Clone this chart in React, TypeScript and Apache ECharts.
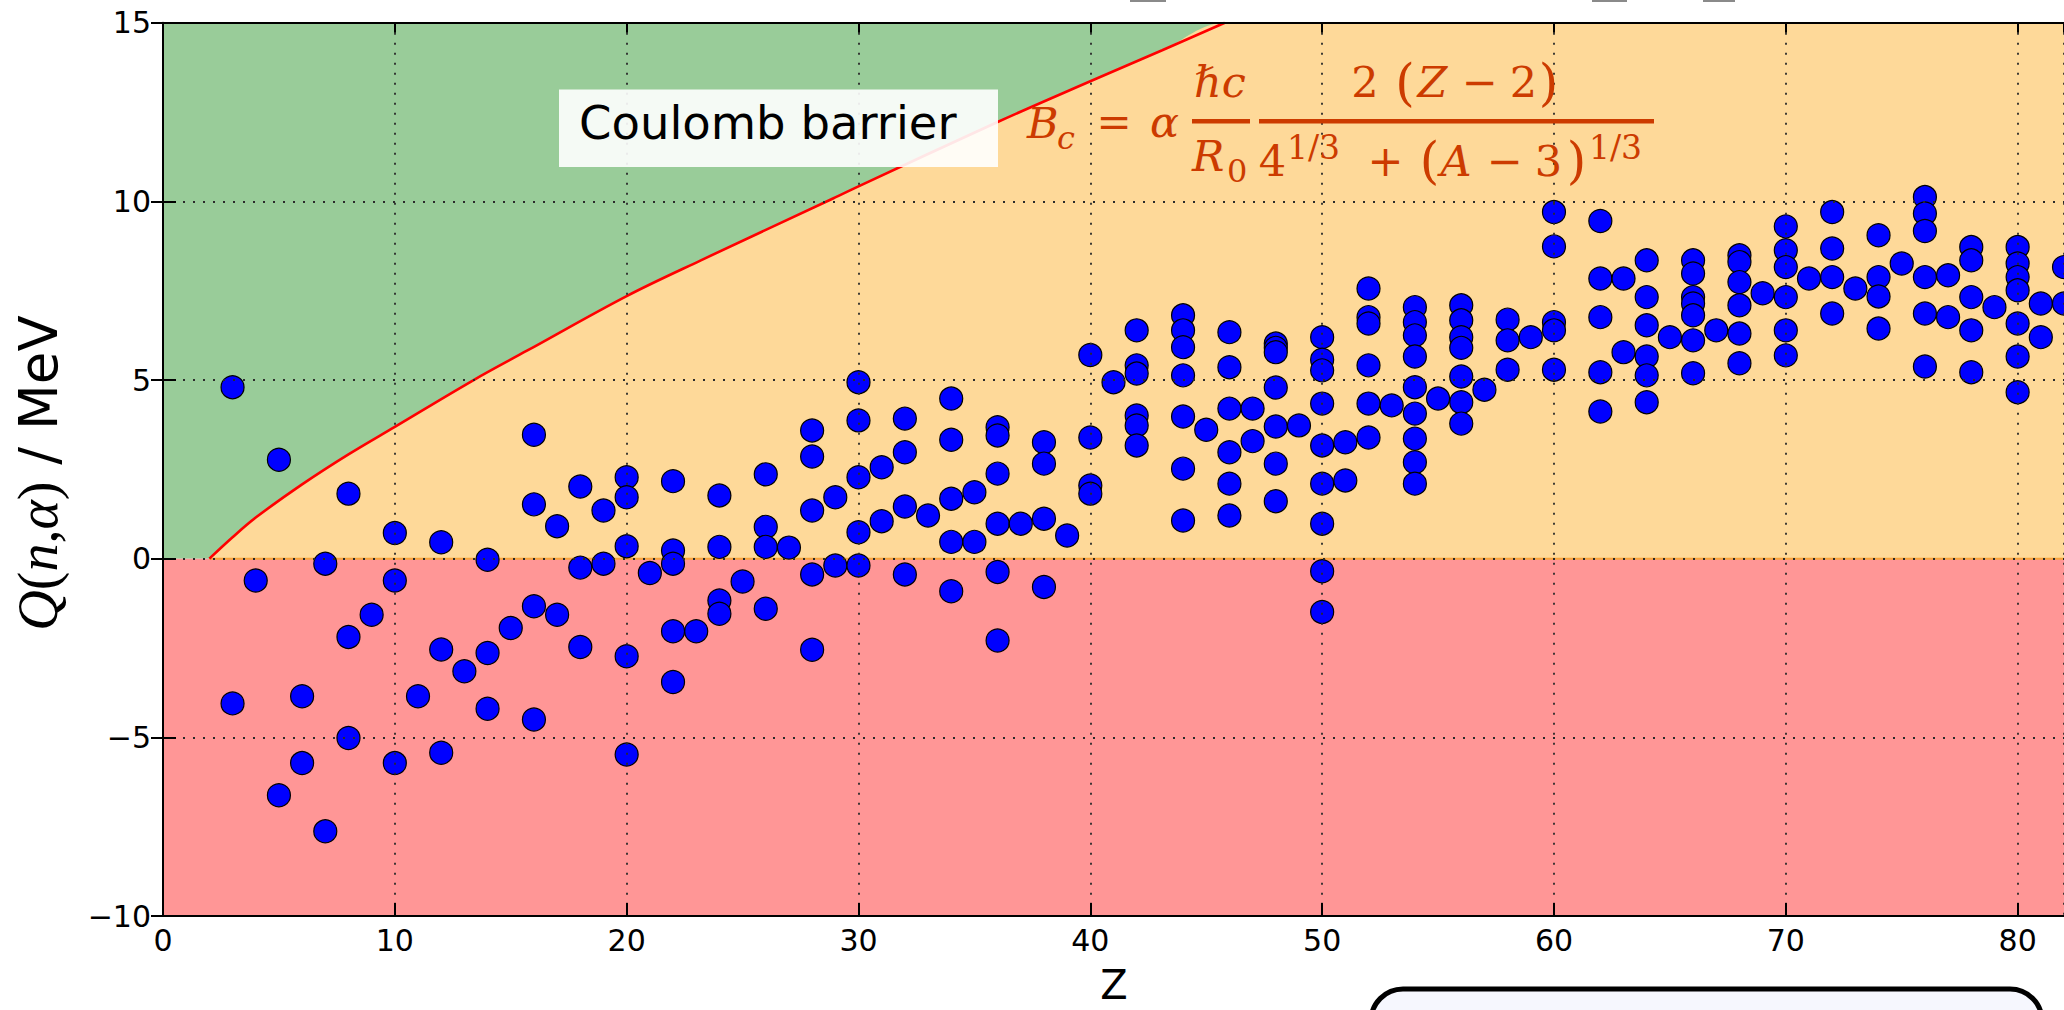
import React, { useEffect, useRef } from "react";
import * as echarts from "echarts";

// Q(n,alpha) values (MeV) grouped by proton number Z
const qByZ: Array<[number, number[]]> = [
  [3, [4.8, -4.05]],
  [4, [-0.61]],
  [5, [2.77, -6.62]],
  [6, [-3.85, -5.72]],
  [7, [-0.14, -7.63]],
  [8, [1.82, -2.19, -5.02]],
  [9, [-1.57]],
  [10, [0.72, -0.61, -5.72]],
  [11, [-3.85]],
  [12, [0.46, -2.54, -5.43]],
  [13, [-3.15]],
  [14, [-0.03, -2.64, -4.2]],
  [15, [-1.94]],
  [16, [3.47, 1.52, -1.33, -4.5]],
  [17, [0.91, -1.57]],
  [18, [2.02, -0.25, -2.47]],
  [19, [1.35, -0.14]],
  [20, [2.28, 1.72, 0.35, -2.73, -5.48]],
  [21, [-0.4]],
  [22, [2.17, 0.23, -0.14, -2.03, -3.45]],
  [23, [-2.03]],
  [24, [1.77, 0.33, -1.17, -1.54]],
  [25, [-0.64]],
  [26, [2.36, 0.89, 0.33, -1.4]],
  [27, [0.31]],
  [28, [3.59, 2.86, 1.35, -0.44, -2.55]],
  [29, [1.72, -0.19]],
  [30, [4.94, 3.87, 2.28, 0.74, -0.19]],
  [31, [2.56, 1.05]],
  [32, [3.92, 2.98, 1.46, -0.44]],
  [33, [1.21]],
  [34, [4.48, 3.33, 1.68, 0.47, -0.91]],
  [35, [1.86, 0.47]],
  [36, [3.68, 3.45, 2.38, 0.98, -0.37, -2.29]],
  [37, [0.98]],
  [38, [3.26, 2.66, 1.12, -0.79]],
  [39, [0.65]],
  [40, [5.7, 3.39, 2.05, 1.82]],
  [41, [4.94]],
  [42, [6.39, 5.41, 5.18, 4.01, 3.73, 3.17]],
  [44, [6.81, 6.39, 5.92, 5.13, 3.98, 2.52, 1.07]],
  [45, [3.61]],
  [46, [6.34, 5.36, 4.2, 2.98, 2.1, 1.21]],
  [47, [4.2, 3.29]],
  [48, [6.02, 5.9, 5.78, 4.79, 3.7, 2.66, 1.61]],
  [49, [3.73]],
  [50, [6.2, 5.57, 5.27, 4.34, 3.17, 2.1, 0.98, -0.35, -1.49]],
  [51, [3.26, 2.19]],
  [52, [7.56, 6.76, 6.58, 5.41, 4.34, 3.39]],
  [53, [4.29]],
  [54, [7.04, 6.62, 6.25, 5.66, 4.8, 4.06, 3.36, 2.7, 2.1]],
  [55, [4.48]],
  [56, [7.09, 6.67, 6.2, 5.9, 5.1, 4.38, 3.78]],
  [57, [4.73]],
  [58, [6.69, 6.11, 5.29]],
  [59, [6.2]],
  [60, [9.7, 8.74, 6.62, 6.39, 5.29]],
  [62, [9.45, 7.84, 6.76, 5.22, 4.12]],
  [63, [7.84, 5.78]],
  [64, [8.35, 7.32, 6.53, 5.66, 5.13, 4.38]],
  [65, [6.2]],
  [66, [8.35, 7.98, 7.32, 7.14, 6.81, 6.11, 5.19]],
  [67, [6.39]],
  [68, [8.49, 8.3, 7.74, 7.09, 6.3, 5.47]],
  [69, [7.43]],
  [70, [9.3, 8.63, 8.16, 7.32, 6.39, 5.69]],
  [71, [7.84]],
  [72, [9.7, 8.68, 7.88, 6.86]],
  [73, [7.56]],
  [74, [9.05, 7.88, 7.34, 6.44]],
  [75, [8.26]],
  [76, [10.12, 9.66, 9.17, 7.88, 6.86, 5.38]],
  [77, [7.93, 6.76]],
  [78, [8.72, 8.35, 7.32, 6.39, 5.22]],
  [79, [7.04]],
  [80, [8.72, 8.26, 7.88, 7.51, 6.58, 5.66, 4.66]],
  [81, [7.14, 6.2]],
  [82, [8.16, 7.14]],
];

// Coulomb barrier curve (Z, MeV)
const barrierZ = [2, 3, 4, 6, 8, 10, 13.4, 15.7, 20, 23.2, 28.9, 30, 36, 40, 43.1, 45.8];
const barrierQ = [0, 0.6, 1.15, 2.08, 2.92, 3.69, 5.0, 5.82, 7.35, 8.35, 10.08, 10.42, 12.22, 13.36, 14.23, 15.0];

// Axis limits and tick steps
const xMin = 0;
const xMax = 82;
const yMin = -10;
const yMax = 15;
const xTickStep = 10;
const yTickStep = 5;

const FORMULA_COLOR = "#cc3b00";
const SERIF = "DejaVu Serif";

function fText(
  text: string,
  x: number,
  baseline: number,
  size: number,
  italic: boolean,
  align: "left" | "center" = "left"
) {
  return {
    type: "text",
    x,
    y: baseline - 0.346 * size,
    z: 30,
    style: {
      text,
      fill: FORMULA_COLOR,
      fontFamily: SERIF,
      fontSize: size,
      fontStyle: italic ? "italic" : "normal",
      align,
      verticalAlign: "middle",
    },
  };
}

export default function App() {
  const ref = useRef<HTMLDivElement>(null);

  useEffect(() => {
    document.body.style.margin = "0";
    document.body.style.overflow = "hidden";
    if (!ref.current) return;
    const chart = echarts.init(ref.current, undefined, { renderer: "svg" });

    const points: number[][] = [];
    qByZ.forEach(([z, qs]) => qs.forEach((q) => points.push([z, q])));

    const curve = barrierZ.map((z, i) => [z, barrierQ[i]]);
    const orangeArea = [...curve, [xMax, yMax]];

    const gridDots = { color: "#2a2a2a", width: 1.8, type: [2, 8] as number[] };
    const axisBlack = { color: "#000", width: 2 };

    const option: any = {
      animation: false,
      backgroundColor: "#fff",
      grid: { left: 163, top: 22.7, width: 1902, height: 893.3 },
      xAxis: [
        {
          type: "value",
          min: xMin,
          max: xMax,
          interval: xTickStep,
          z: 10,
          axisLine: { show: true, onZero: false, lineStyle: axisBlack },
          axisTick: { show: true, inside: true, length: 13, lineStyle: axisBlack },
          axisLabel: {
            show: true,
            margin: 9,
            color: "#000",
            fontFamily: "DejaVu Sans",
            fontSize: 30,
            showMaxLabel: false,
            formatter: (v: number) => (v % xTickStep === 0 ? String(v) : ""),
          },
          splitLine: { show: true, lineStyle: gridDots },
        },
        {
          type: "value",
          position: "top",
          min: xMin,
          max: xMax,
          interval: xTickStep,
          z: 10,
          axisLine: { show: true, onZero: false, lineStyle: axisBlack },
          axisTick: { show: true, inside: true, length: 10, lineStyle: axisBlack },
          axisLabel: { show: false },
          splitLine: { show: false },
        },
      ],
      yAxis: [
        {
          type: "value",
          min: yMin,
          max: yMax,
          interval: yTickStep,
          z: 10,
          axisLine: { show: true, onZero: false, lineStyle: axisBlack },
          axisTick: { show: true, inside: true, length: 13, lineStyle: axisBlack },
          axisLabel: {
            show: true,
            margin: 12,
            color: "#000",
            fontFamily: "DejaVu Sans",
            fontSize: 30,
            formatter: (v: number) => (v < 0 ? "\u2212" + Math.abs(v) : String(v)),
          },
          splitLine: { show: true, lineStyle: gridDots },
        },
        {
          type: "value",
          position: "right",
          min: yMin,
          max: yMax,
          interval: yTickStep,
          z: 10,
          axisLine: { show: false },
          axisTick: { show: true, inside: true, length: 12, lineStyle: axisBlack },
          axisLabel: { show: false },
          splitLine: { show: false },
        },
      ],
      series: [
        {
          name: "above barrier",
          type: "line",
          z: 1,
          symbol: "none",
          data: [
            [xMin, yMax],
            [xMax, yMax],
          ],
          lineStyle: { width: 0, opacity: 0 },
          areaStyle: { color: "#99cc99", opacity: 1, origin: "auto" },
        },
        {
          name: "negative Q",
          type: "line",
          z: 1,
          symbol: "none",
          data: [
            [xMin, yMin],
            [xMax, yMin],
          ],
          lineStyle: { width: 0, opacity: 0 },
          areaStyle: { color: "#ff9696", opacity: 1, origin: "auto" },
        },
        {
          name: "below barrier",
          type: "line",
          z: 2,
          symbol: "none",
          smooth: 0.35,
          data: orangeArea,
          lineStyle: { width: 0, opacity: 0 },
          areaStyle: { color: "#fed999", opacity: 1, origin: "auto" },
        },
        {
          name: "zero edge",
          type: "line",
          z: 2.5,
          symbol: "none",
          data: [
            [barrierZ[0], 0],
            [xMax, 0],
          ],
          lineStyle: { color: "#f6a43a", width: 2 },
        },
        {
          name: "Coulomb barrier",
          type: "line",
          z: 3,
          symbol: "none",
          smooth: 0.35,
          clip: true,
          data: curve,
          lineStyle: { color: "#ff0000", width: 2.6 },
        },
        {
          name: "Q(n,alpha)",
          type: "scatter",
          z: 4,
          symbol: "circle",
          symbolSize: 23,
          data: points,
          itemStyle: { color: "#0000ff", borderColor: "#000", borderWidth: 1.2, opacity: 1 },
        },
      ],
      graphic: [
        // clipped text remnants at the very top
        { type: "rect", z: 30, shape: { x: 1130, y: 0, width: 36, height: 2 }, style: { fill: "#8a8a8a" } },
        { type: "rect", z: 30, shape: { x: 1592, y: 0, width: 35, height: 2 }, style: { fill: "#8a8a8a" } },
        { type: "rect", z: 30, shape: { x: 1703, y: 0, width: 32, height: 2 }, style: { fill: "#8a8a8a" } },
        // Coulomb barrier label
        {
          type: "rect",
          z: 25,
          shape: { x: 559, y: 89.5, width: 439, height: 77.5 },
          style: { fill: "rgba(255,255,255,0.9)" },
        },
        {
          type: "text",
          z: 26,
          x: 579,
          y: 123.4,
          scaleX: 0.99,
          style: {
            text: "Coulomb barrier",
            fill: "#000",
            fontFamily: "DejaVu Sans",
            fontSize: 47,
            align: "left",
            verticalAlign: "middle",
          },
        },
        // formula
        fText("B", 1027, 137.5, 43, true),
        fText("c", 1057, 149, 32, true),
        fText("=", 1114, 137, 42, false, "center"),
        fText("\u03b1", 1164.5, 137, 43, true, "center"),
        fText("\u210fc", 1220, 97, 43, true, "center"),
        { type: "rect", z: 30, shape: { x: 1192, y: 119, width: 58, height: 4.4 }, style: { fill: FORMULA_COLOR } },
        fText("R", 1192, 170.5, 43, true),
        fText("0", 1227, 182, 32, false),
        { type: "rect", z: 30, shape: { x: 1259, y: 119, width: 395, height: 4.4 }, style: { fill: FORMULA_COLOR } },
        fText("2", 1365, 97, 43, false, "center"),
        fText("(", 1405, 100, 50, false, "center"),
        fText("Z", 1432.5, 97, 43, true, "center"),
        fText("\u2212", 1479.5, 97, 43, false, "center"),
        fText("2", 1523.5, 97, 43, false, "center"),
        fText(")", 1548.5, 100, 50, false, "center"),
        fText("4", 1272.5, 175.5, 43, false, "center"),
        fText("1/3", 1287, 159, 33, false),
        fText("+", 1385.5, 175.5, 43, false, "center"),
        fText("(", 1429.5, 178.5, 50, false, "center"),
        fText("A", 1456, 175.5, 43, true, "center"),
        fText("\u2212", 1504.5, 175.5, 43, false, "center"),
        fText("3", 1548.5, 175.5, 43, false, "center"),
        fText(")", 1576.5, 178.5, 50, false, "center"),
        fText("1/3", 1589, 159, 33, false),
        // axis titles
        {
          type: "text",
          z: 30,
          x: 1114,
          y: 985,
          style: {
            text: "Z",
            fill: "#000",
            fontFamily: "DejaVu Sans",
            fontSize: 40,
            lineHeight: 34,
            align: "center",
            verticalAlign: "middle",
          },
        },
        {
          type: "text",
          z: 30,
          x: 38,
          y: 473,
          rotation: Math.PI / 2,
          style: {
            text: "{m|Q}{r|(}{m|n}{r|,}{m|\u03b1}{r|)}{s| / MeV}",
            fill: "#000",
            align: "center",
            verticalAlign: "middle",
            rich: {
              m: { fontFamily: "Liberation Serif", fontStyle: "italic", fontSize: 56, fill: "#000" },
              r: { fontFamily: "Liberation Serif", fontSize: 56, fill: "#000" },
              s: { fontFamily: "DejaVu Sans", fontSize: 53, fill: "#000" },
            },
          },
        },
        // partially visible box at bottom right
        {
          type: "rect",
          z: 30,
          shape: { x: 1371, y: 989, width: 671, height: 120, r: 32 },
          style: { fill: "#f6f7fe", stroke: "#000", lineWidth: 5 },
        },
      ],
    };

    chart.setOption(option);
    return () => chart.dispose();
  }, []);

  return <div ref={ref} style={{ width: 2064, height: 1010 }} />;
}
